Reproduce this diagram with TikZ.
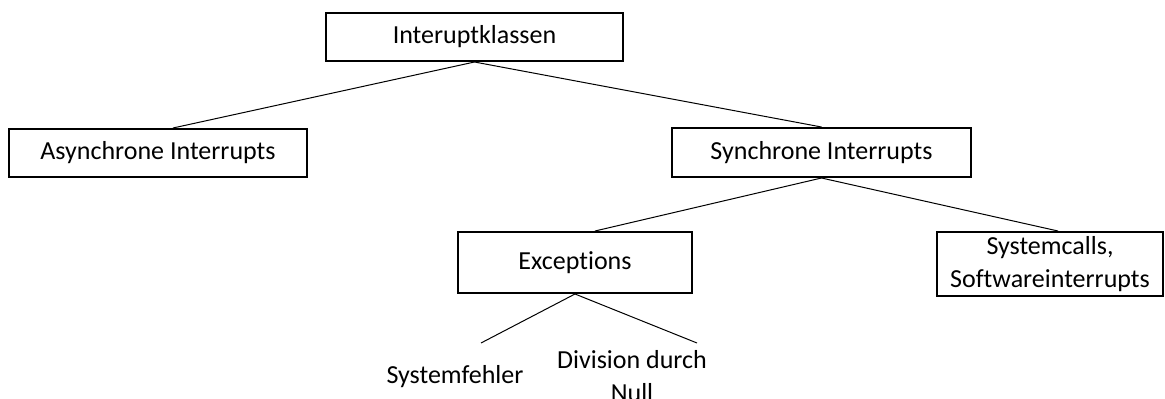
\documentclass[tikz,border=0pt]{standalone}
\usepackage{fontspec}
\setmainfont{Carlito}[Ligatures={NoCommon}]
\usetikzlibrary{calc}
\begin{document}
\begin{tikzpicture}[x=1pt,y=-1pt,
  box/.style={draw=black,line width=2pt,inner sep=0pt,align=center,
    font=\fontsize{26}{33}\selectfont},
  leaf/.style={inner sep=0pt,align=center,font=\fontsize{26}{33}\selectfont},
  link/.style={draw=black,line width=1pt}]
\useasboundingbox (0,0) rectangle (1165,399);

\node[box,minimum width=297pt,minimum height=48pt] (root) at (474.5,37) {Interuptklassen};
\node[box,minimum width=298pt,minimum height=48pt] (async) at (158,153) {Asynchrone Interrupts};
\node[box,minimum width=299pt,minimum height=49pt] (sync) at (821.5,152.5) {Synchrone Interrupts};
\node[box,minimum width=234pt,minimum height=61pt] (exc) at (575,262.5) {Exceptions};
\node[box,minimum width=226pt,minimum height=64pt] (sys) at (1050,264) {Systemcalls,\\Softwareinterrupts};
\node[leaf] (sf) at (455,377) {Systemfehler};
\node[leaf] (div) at (632,376) {Division durch\\Null};

\coordinate (sfTop) at (481,343);
\coordinate (divTop) at (697,343);

\draw[link] (root.south) -- ($(async.north)+(15,0)$);
\draw[link] (root.south) -- (sync.north);
\draw[link] (sync.south) -- ($(exc.north)+(20,0)$);
\draw[link] (sync.south) -- ($(sys.north)+(8,0)$);
\draw[link] (exc.south) -- (sfTop);
\draw[link] (exc.south) -- (divTop);
\end{tikzpicture}
\end{document}
